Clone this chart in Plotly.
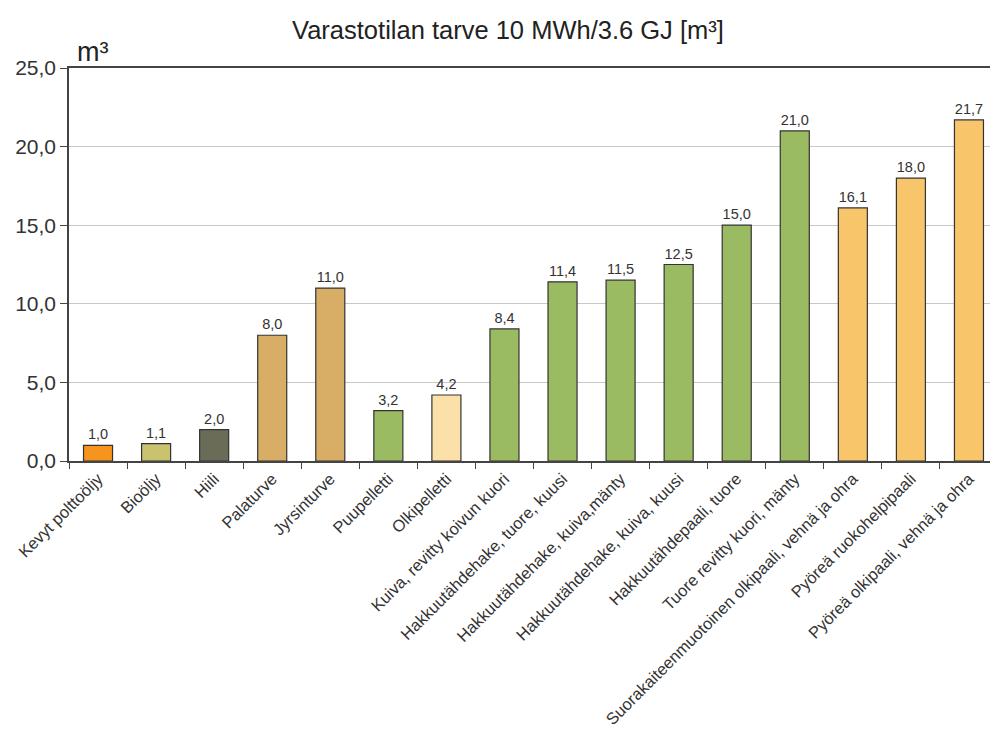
import plotly.graph_objects as go

categories = [
    "Kevyt polttoöljy", "Bioöljy", "Hiili", "Palaturve", "Jyrsinturve",
    "Puupelletti", "Olkipelletti", "Kuiva, revitty koivun kuori",
    "Hakkuutähdehake, tuore, kuusi", "Hakkuutähdehake, kuiva,mänty",
    "Hakkuutähdehake, kuiva, kuusi", "Hakkuutähdepaali, tuore",
    "Tuore revitty kuori, mänty", "Suorakaiteenmuotoinen olkipaali, vehnä ja ohra",
    "Pyöreä ruokohelpipaali", "Pyöreä olkipaali, vehnä ja ohra",
]
values = [1.0, 1.1, 2.0, 8.0, 11.0, 3.2, 4.2, 8.4, 11.4, 11.5, 12.5, 15.0, 21.0, 16.1, 18.0, 21.7]
colors = [
    "#F7941D", "#C9C26E", "#6B6C58", "#D8AE66", "#D8AE66",
    "#9BBB62", "#FBE0AA", "#9BBB62", "#9BBB62", "#9BBB62",
    "#9BBB62", "#9BBB62", "#9BBB62", "#F8C56A", "#F8C56A", "#F8C56A",
]
y_ticks = [0, 5, 10, 15, 20, 25]

FONT = "Liberation Sans, Arial, sans-serif"

fig = go.Figure(go.Bar(
    x=categories, y=values,
    marker=dict(color=colors, line=dict(color="#333333", width=1.2)),
    width=0.5,
    text=values, texttemplate="%{y:.1f}", textposition="outside",
    textfont=dict(family=FONT, size=14.5, color="#333333"),
    cliponaxis=False,
))

fig.update_layout(
    width=990, height=723,
    margin=dict(l=61, r=0, t=60, b=270),
    plot_bgcolor="white", paper_bgcolor="white",
    separators=",.",
    showlegend=False,
    title=dict(text="Varastotilan tarve 10 MWh/3.6 GJ [m³]",
               x=0.505, xref="container", xanchor="center",
               y=0.9696, yref="container", yanchor="middle",
               font=dict(family=FONT, size=25.5, color="#222222")),
    annotations=[dict(text="m³", xref="paper", yref="paper", x=0.006, y=1,
                      xanchor="left", yanchor="bottom", yshift=-1,
                      showarrow=False,
                      font=dict(family=FONT, size=27, color="#222222"))],
)

fig.update_xaxes(
    showline=True, linecolor="#444444", linewidth=1.5, mirror=True,
    ticks="outside", tickson="boundaries", ticklen=6, tickcolor="#444444",
    tickangle=-45, tickfont=dict(family=FONT, size=16.5, color="#333333"),
    showgrid=False,
)
fig.update_yaxes(
    range=[0, 25], tickvals=y_ticks, tickformat=".1f",
    showline=True, linecolor="#444444", linewidth=1.5,
    ticks="outside", ticklen=7, tickcolor="#444444",
    tickfont=dict(family=FONT, size=21, color="#333333"),
    showgrid=True, gridcolor="#c8c8c8", gridwidth=1,
    zeroline=False,
)

fig.write_html("out.html")
